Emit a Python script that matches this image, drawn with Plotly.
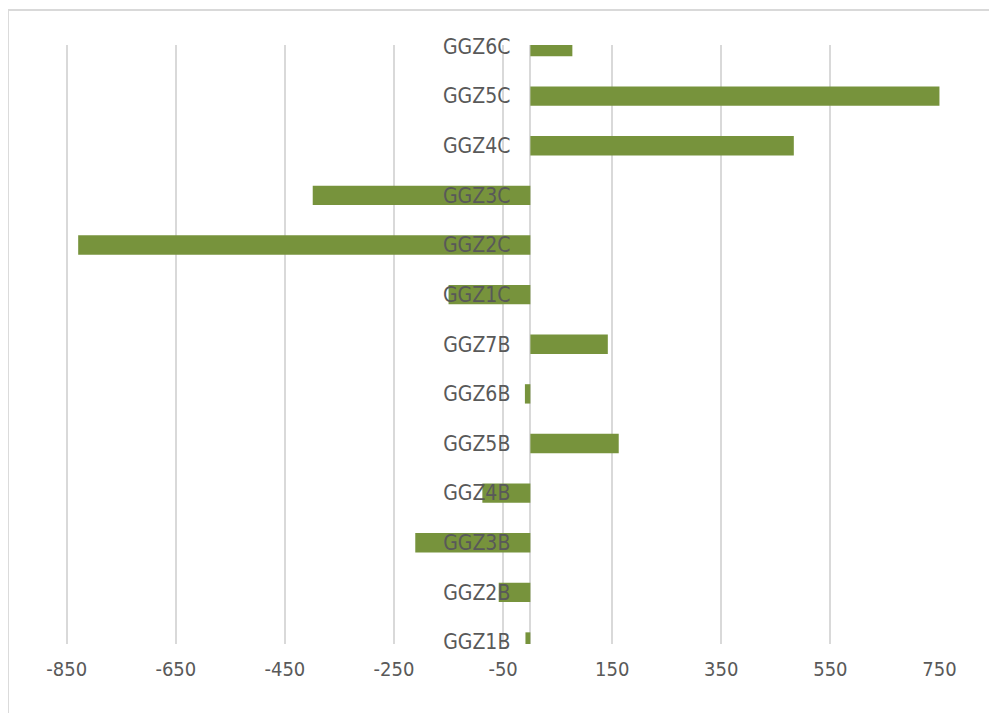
import plotly.graph_objects as go

categories = ["GGZ1B", "GGZ2B", "GGZ3B", "GGZ4B", "GGZ5B", "GGZ6B", "GGZ7B",
              "GGZ1C", "GGZ2C", "GGZ3C", "GGZ4C", "GGZ5C", "GGZ6C"]
values = [-9, -58, -211, -88, 162, -10, 142, -150, -829, -399, 483, 750, 77]
x_ticks = [-850, -650, -450, -250, -50, 150, 350, 550, 750]

x_min, x_max = -855, 751
bar_color = "#77933C"
text_color = "#595959"
grid_color = "#d9d9d9"
font_family = "DejaVu Sans Condensed, DejaVu Sans, sans-serif"

fig = go.Figure(go.Bar(
    y=categories, x=values, orientation="h",
    marker=dict(color=bar_color, line=dict(width=0)),
    width=0.39,
))

fig.update_layout(
    width=997, height=713,
    margin=dict(l=56, r=65, t=37, b=77),
    paper_bgcolor="white", plot_bgcolor="white",
    showlegend=False,
    font=dict(family=font_family, size=21, color=text_color),
    xaxis=dict(
        range=[x_min, x_max], tickvals=x_ticks, ticktext=[str(v) for v in x_ticks],
        showgrid=True, gridcolor=grid_color, gridwidth=1.5,
        zeroline=True, zerolinecolor=grid_color, zerolinewidth=1.5,
        showline=False, ticks="", ticklabelstandoff=11,
        tickfont=dict(size=20, color=text_color, family=font_family),
    ),
    yaxis=dict(
        type="category", categoryorder="array", categoryarray=categories,
        range=[-0.04, 12.03],
        anchor="free", position=(0 - x_min) / (x_max - x_min),
        side="left", showgrid=False, zeroline=False, showline=False,
        ticks="", ticklabelstandoff=20,
        tickfont=dict(size=21, color=text_color, family=font_family),
        layer="above traces",
    ),
    shapes=[dict(type="rect", xref="paper", yref="paper",
                 x0=-0.064, x1=1.1, y0=-0.16, y1=1.0584,
                 line=dict(color=grid_color, width=2), fillcolor="rgba(0,0,0,0)",
                 layer="below")],
)

fig.write_html("out.html")
